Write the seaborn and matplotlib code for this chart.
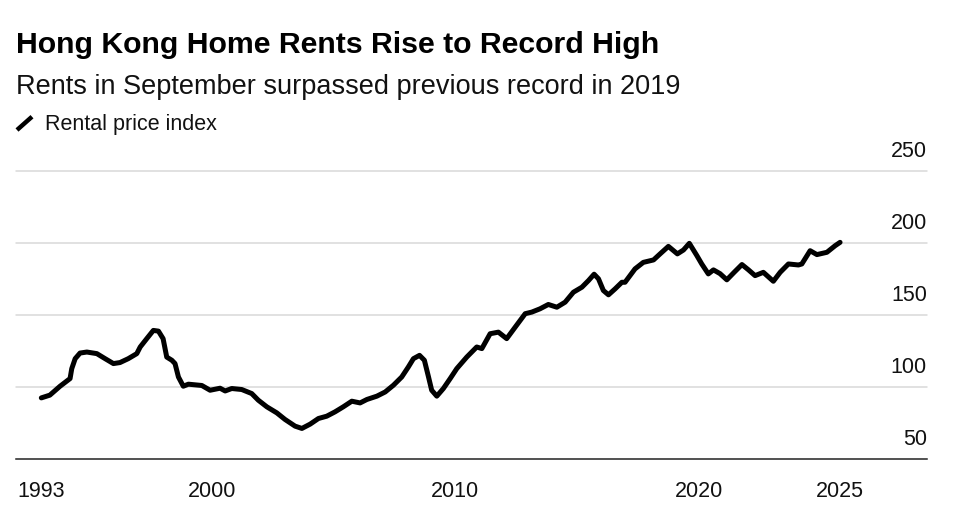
import matplotlib
matplotlib.use("Agg")
import matplotlib.pyplot as plt
import matplotlib.transforms as mtransforms
from matplotlib.lines import Line2D
import seaborn as sns

# Hong Kong rental price index (fractional years)
years = [1993.00, 1993.35, 1993.77, 1994.18, 1994.25, 1994.39, 1994.59, 1994.87,
         1995.28, 1995.62, 1995.96, 1996.23, 1996.57, 1996.92, 1997.06, 1997.33,
         1997.60, 1997.81, 1998.00, 1998.15, 1998.36, 1998.49, 1998.63, 1998.83,
         1999.04, 1999.59, 1999.93, 2000.34, 2000.55, 2000.82, 2001.23, 2001.64,
         2001.91, 2002.26, 2002.67, 2003.01, 2003.42, 2003.70, 2004.04, 2004.38,
         2004.72, 2005.06, 2005.40, 2005.75, 2006.09, 2006.37, 2006.78, 2007.12,
         2007.46, 2007.80, 2008.07, 2008.28, 2008.53, 2008.73, 2008.90, 2009.03,
         2009.24, 2009.51, 2009.79, 2010.06, 2010.47, 2010.88, 2011.09, 2011.43,
         2011.77, 2012.11, 2012.46, 2012.87, 2013.14, 2013.48, 2013.82, 2014.17,
         2014.51, 2014.85, 2015.20, 2015.47, 2015.70, 2015.88, 2016.08, 2016.29,
         2016.56, 2016.84, 2016.97, 2017.38, 2017.72, 2018.14, 2018.41, 2018.75,
         2019.12, 2019.37, 2019.61, 2019.92, 2020.12, 2020.39, 2020.60, 2020.87,
         2021.15, 2021.45, 2021.77, 2022.04, 2022.31, 2022.65, 2023.06, 2023.34,
         2023.68, 2024.09, 2024.23, 2024.57, 2024.85, 2025.26, 2025.60, 2025.80]
rent_index = [92.4, 94.3, 100.5, 105.8, 112.7, 119.6, 123.5, 124.2,
              123.1, 119.6, 116.2, 116.9, 119.6, 123.1, 127.7, 133.5,
              139.2, 138.7, 133.5, 120.7, 118.5, 116.2, 106.9, 100.5,
              101.9, 101.0, 97.7, 99.1, 97.2, 98.9, 98.2, 95.4,
              90.8, 86.2, 82.0, 77.4, 72.8, 71.2, 74.2, 78.1,
              79.7, 82.7, 86.2, 90.1, 88.9, 91.3, 93.6, 96.5,
              101.2, 106.9, 113.8, 119.6, 121.9, 118.5, 106.9, 97.7,
              93.6, 98.9, 105.8, 112.7, 120.7, 127.7, 126.6, 136.9,
              138.0, 133.5, 141.5, 150.8, 151.9, 154.2, 157.2, 155.3,
              158.8, 165.7, 169.2, 173.8, 178.2, 175.0, 166.9, 163.9,
              168.0, 172.6, 172.6, 181.9, 186.4, 188.1, 192.3, 197.5,
              192.3, 195.0, 199.6, 191.1, 185.3, 178.4, 181.2, 178.6,
              174.3, 179.5, 184.9, 181.2, 177.2, 179.5, 173.3, 179.5,
              185.3, 184.6, 185.3, 194.5, 191.8, 193.4, 198.0, 200.3]

x_ticks = [1993, 2000, 2010, 2020, 2025.80]
x_labels = ["1993", "2000", "2010", "2020", "2025"]
y_ticks = [50, 100, 150, 200, 250]

sns.set_style("white")
plt.rcParams["font.family"] = ["Liberation Sans", "DejaVu Sans"]

W, H = 973, 521
fig = plt.figure(figsize=(W / 100, H / 100), dpi=100)
ax = fig.add_axes([16 / W, 1 - 459 / H, (927 - 16) / W, (459 - 170.7) / H])

# light gridlines
for v in y_ticks[1:]:
    ax.axhline(v, color="#d9d9d9", lw=1.1, clip_on=False, zorder=1)

sns.lineplot(x=years, y=rent_index, ax=ax, color="black", lw=3.6,
             solid_joinstyle="round", solid_capstyle="round", zorder=3)

ax.set_xlim(1991.96, 2029.37)
ax.set_ylim(50, 250)

for s in ["top", "right", "left"]:
    ax.spines[s].set_visible(False)
ax.spines["bottom"].set_color("#222222")
ax.spines["bottom"].set_linewidth(1.1)

ax.set_xticks(x_ticks)
ax.set_xticklabels(x_labels)
ax.tick_params(axis="x", length=5, width=1.1, color="#333333", pad=11,
               labelsize=15.5, labelcolor="#111111")
ax.set_yticks([])
ax.set_xlabel("")
ax.set_ylabel("")

# y labels sit above their gridlines at the right edge
trans = mtransforms.blended_transform_factory(ax.transAxes, ax.transData)
for v in y_ticks:
    ax.annotate(str(v), xy=(1.0, v), xycoords=trans, xytext=(0, 14),
                textcoords="offset pixels", ha="right", va="baseline",
                fontsize=15.5, color="#111111", annotation_clip=False)

# header
fig.text(16 / W, 1 - 53.3 / H, "Hong Kong Home Rents Rise to Record High",
         fontsize=21.8, fontweight="bold", color="black", va="baseline")
fig.text(16 / W, 1 - 94 / H, "Rents in September surpassed previous record in 2019",
         fontsize=19.5, color="#111111", va="baseline")
fig.add_artist(Line2D([17 / W, 32 / W], [1 - 130 / H, 1 - 116.7 / H],
                      transform=fig.transFigure, color="black", lw=3.2,
                      solid_capstyle="butt"))
fig.text(45 / W, 1 - 130 / H, "Rental price index", fontsize=15.5,
         color="#111111", va="baseline")

fig.savefig("out.png", dpi=100)
